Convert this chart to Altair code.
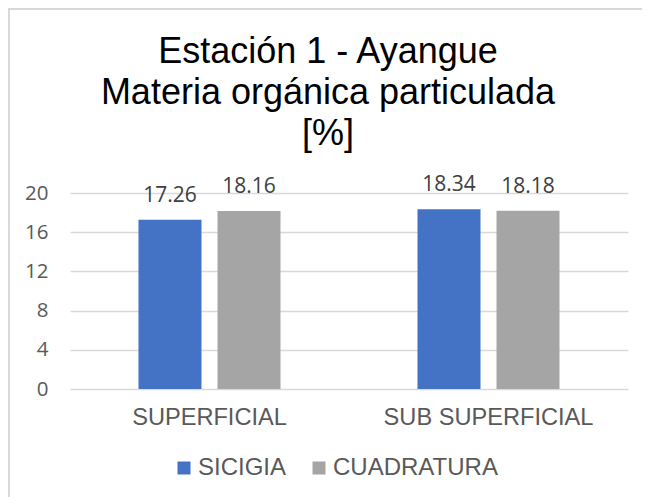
import altair as alt
import pandas as pd

categories = ["SUPERFICIAL", "SUB SUPERFICIAL"]
series = ["SICIGIA", "CUADRATURA"]
sicigia = [17.26, 18.34]
cuadratura = [18.16, 18.18]
y_ticks = [0, 4, 8, 12, 16, 20]
colors = ["#4472c4", "#a5a5a5"]

rows = []
for i, c in enumerate(categories):
    rows.append({"cat": c, "serie": series[0], "val": sicigia[i]})
    rows.append({"cat": c, "serie": series[1], "val": cuadratura[i]})
df = pd.DataFrame(rows)

W, H = 558, 196
PL, PT = 62, 185

x = alt.X("cat:N", sort=categories, title=None,
          scale=alt.Scale(paddingInner=0, paddingOuter=0),
          axis=alt.Axis(labelAngle=0, ticks=False, domain=False, labelPadding=16,
                        labelLimit=400,
                        labelFont="Liberation Sans", labelFontSize=23.6,
                        labelColor="#595959", labelBaseline="top"))
xo = alt.XOffset("serie:N", sort=series,
                 scale=alt.Scale(paddingInner=0.2025, paddingOuter=0.867))
y = alt.Y("val:Q", title=None,
          scale=alt.Scale(domain=[0, 20], nice=False),
          axis=alt.Axis(values=y_ticks, ticks=False, domain=False, labelPadding=22,
                        labelFont="Open Sans", labelFontSize=20.5, labelColor="#595959",
                        gridColor="#d9d9d9", gridWidth=1.5))

bars = alt.Chart(df).mark_bar().encode(
    x=x, xOffset=xo, y=y,
    color=alt.Color("serie:N", sort=series,
                    scale=alt.Scale(domain=series, range=colors),
                    legend=alt.Legend(title=None, orient="none", direction="horizontal",
                                      legendX=102, legendY=263, padding=0,
                                      symbolType="square", symbolSize=169,
                                      symbolStrokeWidth=0, labelOffset=2,
                                      columnPadding=20, labelLimit=300,
                                      labelFont="Liberation Sans", labelFontSize=24,
                                      labelColor="#595959")),
)

labels = alt.Chart(df).mark_text(baseline="alphabetic", dy=-18, font="Open Sans",
                                 fontSize=21, color="#404040").encode(
    x=x, xOffset=xo, y=y, text=alt.Text("val:Q", format=".2f"),
)

border = alt.Chart(pd.DataFrame({"b": [0]})).mark_rect(
    fill=None, stroke="#d9d9d9", strokeWidth=2).encode(
    x=alt.value(-PL + 1), x2=alt.value(700), y=alt.value(-PT + 1), y2=alt.value(600),
)

chart = alt.layer(border, bars, labels).properties(
    width=W, height=H,
    autosize=alt.AutoSizeParams(type="none"),
    padding={"left": PL, "top": PT, "right": 14, "bottom": 108},
    title=alt.TitleParams(
        text=["Estación 1 - Ayangue", "Materia orgánica particulada", "[%]"],
        font="Liberation Sans", fontSize=36, fontWeight="normal", color="#000000",
        anchor="middle", frame="group", lineHeight=41, offset=-145, dx=-21),
).configure_view(stroke=None)

chart.save("out.html", embed_options={"renderer": "svg", "actions": False})
